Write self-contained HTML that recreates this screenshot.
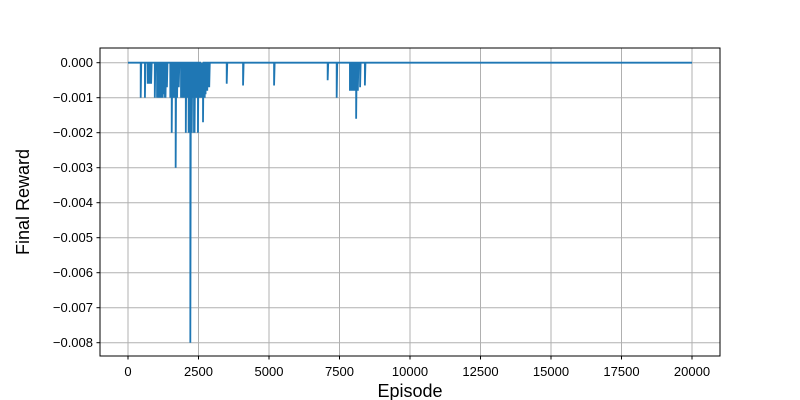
<!DOCTYPE html>
<html><head><meta charset="utf-8"><style>
body{margin:0;background:#fff;}
svg{display:block;font-family:"Liberation Sans","DejaVu Sans",sans-serif;}
</style></head><body>
<svg id="chart" width="800" height="400">
<rect width="800" height="400" fill="#fff"/>
<g id="grid"></g>
<g id="xticks"></g>
<g id="yticks"></g>
<path id="line" fill="none" stroke="#1f77b4" stroke-width="1.8" stroke-linejoin="miter"/>
<rect x="100" y="48" width="620" height="308" fill="none" stroke="#000" stroke-width="1"/>
<text x="410" y="397" font-size="18" text-anchor="middle">Episode</text>
<text transform="translate(29,202) rotate(-90)" font-size="18" text-anchor="middle">Final Reward</text>
</svg>
<script>
const xTicks=[0,2500,5000,7500,10000,12500,15000,17500,20000];
const yTicks=[0,-0.001,-0.002,-0.003,-0.004,-0.005,-0.006,-0.007,-0.008];
const spikeEpisodes=[450,600,700,730,760,790,820,950,1030,1060,1080,1110,1130,1160,1180,1210,1230,1260,1280,1310,1330,1360,1380,1500,1525,1550,1575,1600,1625,1650,1690,1715,1740,1800,1880,1900,1920,1950,1970,2000,2020,2050,2070,2100,2120,2150,2180,2210,2240,2260,2290,2310,2340,2360,2390,2410,2440,2480,2500,2530,2560,2580,2600,2620,2640,2660,2690,2720,2750,2780,2810,2850,2880,3500,4080,5180,7080,7400,7870,7900,7930,7960,7990,8020,8040,8090,8120,8150,8230,8400];
const spikeValues=[-0.001,-0.001,-0.0006,-0.0006,-0.0006,-0.0006,-0.0006,-0.001,-0.001,-0.001,-0.0007,-0.001,-0.001,-0.001,-0.001,-0.001,-0.001,-0.0009,-0.0009,-0.001,-0.001,-0.0007,-0.0007,-0.001,-0.001,-0.002,-0.001,-0.001,-0.001,-0.001,-0.003,-0.001,-0.001,-0.0007,-0.001,-0.001,-0.0009,-0.001,-0.001,-0.001,-0.001,-0.002,-0.001,-0.001,-0.001,-0.002,-0.001,-0.008,-0.001,-0.002,-0.001,-0.001,-0.002,-0.002,-0.001,-0.001,-0.001,-0.002,-0.001,-0.001,-0.001,-0.001,-0.001,-0.001,-0.0009,-0.0017,-0.0009,-0.001,-0.0009,-0.0008,-0.0008,-0.0007,-0.0007,-0.0006,-0.00065,-0.00065,-0.0005,-0.001,-0.0008,-0.0008,-0.0008,-0.0008,-0.0008,-0.0008,-0.0008,-0.0016,-0.0008,-0.0008,-0.0007,-0.00065];
const xMin=0,xMax=20000;
function X(v){return 128+(v-xMin)/(xMax-xMin)*564;}
function Y(v){return 62.7+(v/-0.008)*280;}
const NS="http://www.w3.org/2000/svg";
const grid=document.getElementById('grid'),xt=document.getElementById('xticks'),yt=document.getElementById('yticks');
function mk(tag,attrs,parent){const e=document.createElementNS(NS,tag);for(const k in attrs)e.setAttribute(k,attrs[k]);parent.appendChild(e);return e;}
xTicks.forEach(t=>{const x=X(t);
 const g=mk('line',{x1:x,x2:x,y1:48,y2:356,stroke:'#b0b0b0','stroke-width':1},grid);
 
 
 mk('line',{x1:x,x2:x,y1:356,y2:359.5,stroke:'#000'},xt);
 const tx=mk('text',{x:x,y:376,'font-size':13,'text-anchor':'middle'},xt);tx.textContent=t;
 
 
});
yTicks.forEach(t=>{const y=Y(t);
 const g=mk('line',{x1:100,x2:720,y1:y,y2:y,stroke:'#b0b0b0','stroke-width':1},grid);
 
 
 mk('line',{x1:96.5,x2:100,y1:y,y2:y,stroke:'#000'},yt);
 const tx=mk('text',{x:93,y:y+4.5,'font-size':13,'text-anchor':'end'},yt);
 tx.textContent=(t<0?'\u2212':'')+Math.abs(t).toFixed(3);
 
 
});
let d='M'+X(0)+','+Y(0);
spikeEpisodes.forEach((e,i)=>{d+=' L'+X(e)+','+Y(0)+' L'+X(e)+','+Y(spikeValues[i])+' L'+X(e+20)+','+Y(0);});
d+=' L'+X(20000)+','+Y(0);
document.getElementById('line').setAttribute('d',d);
</script>
</body></html>
